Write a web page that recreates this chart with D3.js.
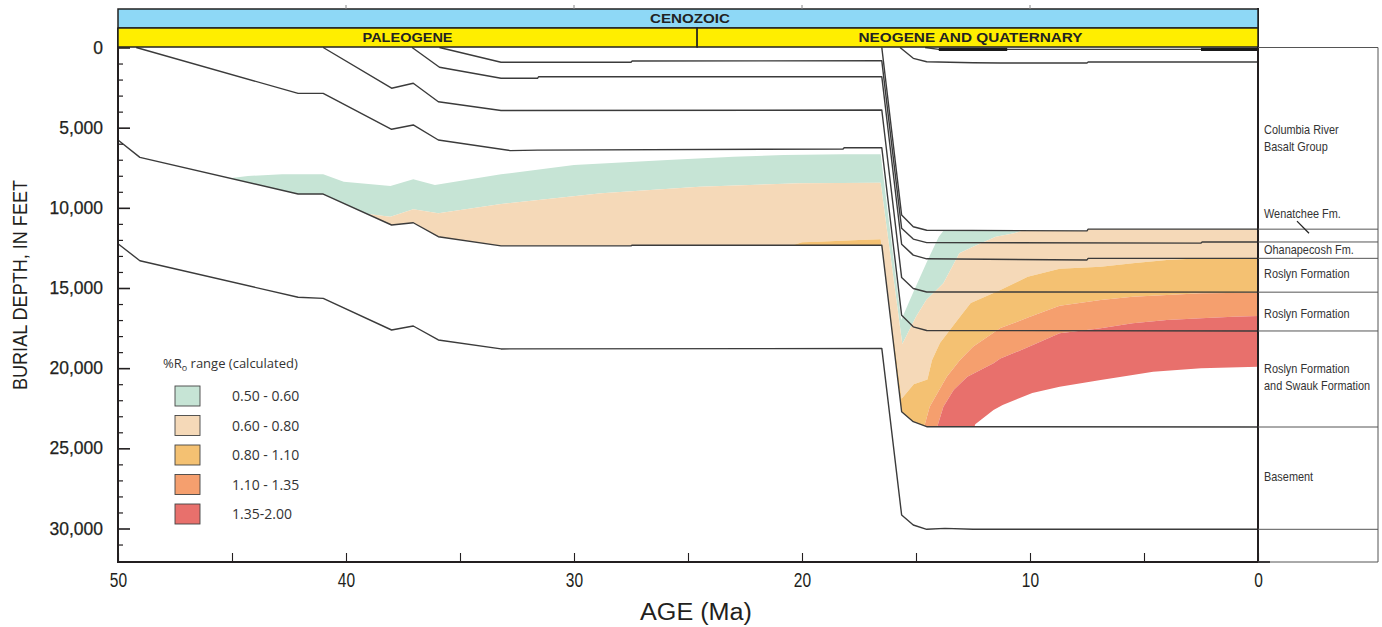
<!DOCTYPE html>
<html><head><meta charset="utf-8">
<script src="https://cdn.jsdelivr.net/npm/d3@7"></script>
<style>
body{margin:0;background:#fff;}
svg{display:block;}
</style></head><body>
<svg id="chart" width="1382" height="627"></svg>
<script>
// ---------------- DATA ----------------
const ageTicks = [50,45,40,35,30,25,20,15,10,5,0];
const depthTicks = [0,5000,10000,15000,20000,25000,30000];
const depthMinor = [1000,2000,3000,4000,6000,7000,8000,9000,11000,12000,13000,14000,16000,17000,18000,19000,21000,22000,23000,24000,26000,27000,28000,29000,31000,32000];
const eraName = "CENOZOIC";
const periodNames = ["PALEOGENE","NEOGENE AND QUATERNARY"];
const periodBounds = [[50,24.6],[24.6,0]];

// burial-history horizons: [age Ma, depth ft]
const hTop = [[14.6,0],[14.0,120],[0,120]];
const hTopThick = [[14.0,11.0],[2.5,0]];
const hN  = [[15.7,0],[15.12,675],[14.53,887],[12.5,950],[11.3,970],[7.5,965],[7.45,905],[0,905]];
const hW  = [[16.5,0],[15.63,10450],[15.12,11180],[14.53,11400],[7.5,11440],[7.45,11330],[0,11330]];
const h0  = [[35.9,0],[33.2,920],[27.5,920],[27.45,840],[16.5,830],[15.63,11280],[15.12,11950],[14.53,12170],[2.5,12200],[2.45,12130],[0,12130]];
const h1  = [[37.1,0],[35.9,1230],[33.2,1920],[31.6,1920],[31.55,1820],[16.5,1820],[15.63,12270],[15.12,12950],[14.53,13180],[7.5,13250],[7.45,13150],[0,13150]];
const h2  = [[41.0,0],[38.0,2540],[37.05,2230],[35.95,3380],[33.2,3930],[16.5,3900],[15.63,14350],[15.12,15030],[14.53,15250],[0,15260]];
const h3  = [[49.2,0],[42.1,2860],[41.0,2860],[38.0,5100],[37.05,4830],[35.95,5770],[32.8,6430],[31.6,6400],[18.2,6330],[18.15,6250],[16.5,6250],[15.63,16700],[15.12,17420],[14.53,17650],[0,17680]];
const h4  = [[50,5770],[49.04,6850],[42.1,9140],[41.0,9140],[38.0,11070],[37.05,10930],[35.95,11800],[33.2,12370],[27.5,12370],[27.45,12330],[16.5,12330],[15.63,22720],[15.12,23340],[14.53,23650],[0,23670]];
const h5  = [[50,12240],[49.04,13300],[42.1,15580],[41.0,15650],[38.0,17620],[37.05,17370],[35.95,18240],[33.2,18800],[16.5,18770],[15.63,29160],[15.12,29780],[14.53,30050],[13.73,29990],[12.5,30050],[0,30050]];

// calculated %Ro iso-lines: [age Ma, depth ft]
const ro050 = [[50,8800],[45.2,8170],[44.3,8015],[42.8,7910],[41.0,7910],[40.1,8370],[38.05,8640],[37.05,8220],[36.1,8575],[33.2,7910],[30.0,7330],[25.9,7017],[23.0,6810],[20.8,6705],[18.2,6660],[16.55,6660],[15.65,17000],[15.1,15200],[14.5,13300],[14.0,11800],[13.5,10900],[10,10000],[0,9000]];
const ro060 = [[50,11500],[41.0,10800],[38.95,10400],[38.05,10550],[37.05,10090],[35.95,10340],[33.2,9760],[28.8,9090],[24.5,8680],[20.1,8470],[16.55,8430],[15.6,18500],[15.0,16790],[14.55,15750],[13.8,14700],[13.1,12840],[12.5,12420],[11.5,11800],[10.7,11590],[10.3,11400],[8,10500],[0,9500]];
const ro080 = [[50,15000],[21,12600],[20.0,12150],[19.3,12110],[17.5,12010],[16.55,11960],[15.63,21900],[15.1,21000],[14.5,20700],[14.3,19500],[13.95,18430],[13.07,16790],[12.6,15940],[11.3,15125],[10.1,14300],[8.7,13800],[6.9,13670],[5.5,13460],[4.0,13250],[2.5,13150],[0,13130]];
const ro110 = [[50,20000],[16.55,16500],[15.65,25000],[14.65,23700],[14.4,22400],[13.65,20530],[13.07,19490],[12.5,18660],[11.3,17500],[10.0,16800],[8.7,16100],[6.9,15750],[5.5,15540],[4.0,15440],[2.5,15330],[0,15290]];
const ro135 = [[50,22000],[16.55,19000],[15.65,27500],[14.1,23800],[13.8,22400],[13.35,21360],[12.75,20530],[11.6,19700],[11.3,19400],[10.1,18700],[8.7,17830],[6.9,17510],[5.5,17200],[4.0,16990],[2.5,16890],[1.1,16790],[0,16750]];
const ro200 = [[50,26000],[16.55,24000],[15.65,31000],[13.5,25500],[12.5,23900],[12.4,23500],[11.6,22610],[11.2,22300],[9.9,21550],[8.7,21160],[6.9,20740],[5.5,20430],[4.6,20220],[2.5,20010],[0,19910]];

const roLabels = ["0.50 - 0.60","0.60 - 0.80","0.80 - 1.10","1.10 - 1.35","1.35-2.00"];
const roColors = ["#c6e4d5","#f5d9b8","#f4c172","#f59f6e","#e8706c"];

// present-day units (label anchor depths, ft)
const unitNames = [["Columbia River","Basalt Group"],["Wenatchee Fm."],["Ohanapecosh Fm."],["Roslyn Formation"],["Roslyn Formation"],["Roslyn Formation","and Swauk Formation"],["Basement"]];
const unitLabelDepths = [[5080,6200],[10320],[12570],[14070],[16560],[19990,21050],[26730]];

// ---------------- DRAW ----------------
const svg = d3.select("#chart");
const X0 = 118, X1 = 1258, PB = 562, PR = 1378;
const FONT = "'Liberation Sans',Arial,sans-serif";
const x = d3.scaleLinear().domain([50,0]).range([X0,X1]);
const y = d3.scaleLinear().domain([0,30000]).range([47.5,528.5]);
const line = d3.line().x(d=>x(d[0])).y(d=>y(d[1]));

// clip: sediment between surface/top of Wenatchee and horizon h4
const clipPts = [[50,0],[16.5,0]].concat(hW.slice(1)).concat(h4.slice().reverse());
svg.append("defs").append("clipPath").attr("id","sed")
  .append("path").attr("d", line(clipPts) + "Z");

const isos = [ro050,ro060,ro080,ro110,ro135,ro200];
const bands = svg.append("g").attr("clip-path","url(#sed)");
for (let i=0;i<5;i++){
  const poly = isos[i].concat(isos[i+1].slice().reverse());
  bands.append("path").attr("d", line(poly)+"Z").attr("fill", roColors[i]).attr("stroke","none");
}

// horizon lines
const horizons = [hTop,hN,hW,h0,h1,h2,h3,h4,h5];
svg.append("g").selectAll("path").data(horizons).join("path")
  .attr("d", line).attr("fill","none").attr("stroke","#3b3b3b").attr("stroke-width",1.4).attr("stroke-linejoin","round");
svg.append("g").selectAll("line").data(hTopThick).join("line")
  .attr("x1",d=>x(d[0])).attr("x2",d=>x(d[1])).attr("y1",y(120)).attr("y2",y(120))
  .attr("stroke","#1a1a1a").attr("stroke-width",3.2);

// axes
const ink = "#231f20";
const gy = svg.append("g").attr("transform",`translate(${X0},0)`)
  .call(d3.axisLeft(y).tickValues(depthTicks).tickSizeInner(-12).tickSizeOuter(0).tickPadding(15).tickFormat(d3.format(",")));
gy.select(".domain").remove();
gy.selectAll("line").attr("stroke",ink).attr("stroke-width",1.6);
gy.selectAll("text").attr("font-family",FONT).attr("font-size",17.5).attr("fill",ink).attr("stroke",ink).attr("stroke-width",0.25);
const gym = svg.append("g").attr("transform",`translate(${X0},0)`)
  .call(d3.axisLeft(y).tickValues(depthMinor.filter(d=>y(d)<PB-2)).tickSize(-5).tickFormat(""));
gym.select(".domain").remove();
gym.selectAll("line").attr("stroke",ink).attr("stroke-width",1.2);

const gx = svg.append("g").attr("transform",`translate(0,${PB})`)
  .call(d3.axisBottom(x).tickValues(ageTicks).tickSizeInner(-9).tickSizeOuter(0).tickPadding(10).tickFormat(d=>d%10===0?d:""));
gx.select(".domain").remove();
gx.selectAll("line").attr("stroke",ink).attr("stroke-width",1.1);
gx.selectAll("text").attr("font-family",FONT).attr("font-size",21).attr("fill",ink).attr("transform","scale(0.74,1)");

// frame
svg.append("line").attr("x1",X0).attr("x2",X0).attr("y1",28).attr("y2",PB+1).attr("stroke",ink).attr("stroke-width",2);
svg.append("line").attr("x1",X0-1).attr("x2",X1+12).attr("y1",PB).attr("y2",PB).attr("stroke",ink).attr("stroke-width",2);
svg.append("line").attr("x1",X1).attr("x2",X1).attr("y1",8).attr("y2",PB+1).attr("stroke",ink).attr("stroke-width",2);

// header
svg.append("rect").attr("x",X0).attr("y",9).attr("width",X1-X0).attr("height",19)
  .attr("fill","#8ed8f6").attr("stroke","#222").attr("stroke-width",1.5);
svg.append("text").attr("x",(x(50)+x(0))/2+2).attr("y",18.5).attr("dy","0.36em").attr("text-anchor","middle")
  .attr("font-family",FONT).attr("font-weight","bold").attr("font-size",13.5)
  .attr("fill","#222").attr("textLength",80).attr("lengthAdjust","spacingAndGlyphs").text(eraName);
const pg = svg.append("g").selectAll("g").data(periodNames).join("g");
pg.append("rect").attr("x",(d,i)=>x(periodBounds[i][0])).attr("y",28)
  .attr("width",(d,i)=>x(periodBounds[i][1])-x(periodBounds[i][0])).attr("height",19)
  .attr("fill","#ffee00").attr("stroke","#222").attr("stroke-width",1.5);
pg.append("text").attr("x",(d,i)=>(x(periodBounds[i][0])+x(periodBounds[i][1]))/2 + (i===0?0:-7)).attr("y",37.5).attr("dy","0.36em")
  .attr("text-anchor","middle").attr("font-family",FONT).attr("font-weight","bold")
  .attr("font-size",13.5).attr("fill","#222")
  .attr("textLength",(d,i)=>i===0?90:224).attr("lengthAdjust","spacingAndGlyphs").text(d=>d);
// tiny top ticks
svg.append("g").selectAll("line").data([40,30,20,10]).join("line")
  .attr("x1",d=>x(d)).attr("x2",d=>x(d)).attr("y1",5).attr("y2",9).attr("stroke","#888").attr("stroke-width",1);

// right panel
const present = [0].concat([hW,h0,h1,h2,h3,h4,h5].map(h=>h[h.length-1][1]));
const rp = svg.append("g");
rp.selectAll("line.h").data(present).join("line").attr("class","h")
  .attr("x1",X1).attr("x2",PR).attr("y1",d=>y(d)).attr("y2",d=>y(d)).attr("stroke","#555").attr("stroke-width",1);
rp.append("line").attr("x1",X1).attr("x2",PR).attr("y1",PB).attr("y2",PB).attr("stroke","#555").attr("stroke-width",1);
rp.append("line").attr("x1",PR).attr("x2",PR).attr("y1",y(0)).attr("y2",PB).attr("stroke","#555").attr("stroke-width",1);
unitNames.forEach((lines,i)=>{
  lines.forEach((t,j)=>{
    rp.append("g").attr("transform",`translate(${X1+6},${y(unitLabelDepths[i][j])}) scale(0.84,1)`)
      .append("text").attr("dy","0.35em").attr("font-family",FONT)
      .attr("font-size",13).attr("fill","#333").text(t);
  });
});
rp.append("line").attr("x1",X1+39).attr("y1",y(10830)).attr("x2",X1+51).attr("y2",y(11580)).attr("stroke","#222").attr("stroke-width",1.3);

// legend
const lg = svg.append("g").attr("font-family","'Open Sans','Noto Sans',sans-serif").attr("fill","#333");
const lt = lg.append("text").attr("x",163).attr("y",368).attr("font-size",13);
lt.append("tspan").text("%R");
lt.append("tspan").attr("font-size",9).attr("dy",3).text("o");
lt.append("tspan").attr("dy",-3).text(" range (calculated)");
const li = lg.selectAll("g.item").data(roLabels).join("g").attr("class","item")
  .attr("transform",(d,i)=>`translate(175,${386+i*29.5})`);
li.append("rect").attr("width",25).attr("height",20).attr("fill",(d,i)=>roColors[i]).attr("stroke","#444").attr("stroke-width",0.9);
li.append("text").attr("x",57).attr("y",10).attr("dy","0.36em").attr("font-size",14).attr("fill","#333").text(d=>d);

// axis titles
svg.append("text").attr("transform","translate(27,285) rotate(-90)").attr("text-anchor","middle")
  .attr("font-family",FONT).attr("font-size",21).attr("fill",ink).attr("textLength",210).attr("lengthAdjust","spacingAndGlyphs").text("BURIAL DEPTH, IN FEET");
svg.append("text").attr("x",(X0+X1)/2+8).attr("y",620).attr("text-anchor","middle")
  .attr("font-family",FONT).attr("font-size",23).attr("fill",ink).attr("textLength",112).attr("lengthAdjust","spacingAndGlyphs").text("AGE (Ma)");
</script>
</body></html>
